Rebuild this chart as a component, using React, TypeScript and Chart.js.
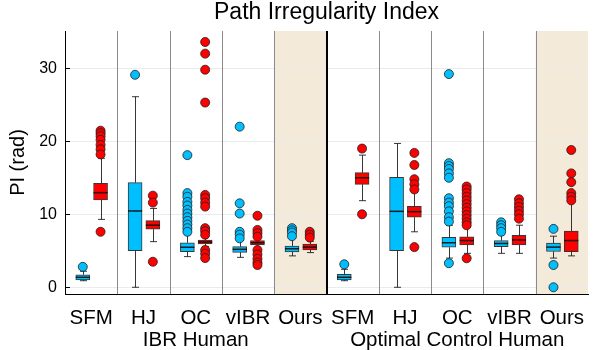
import React, { useEffect, useRef } from 'react';
import { Chart, registerables } from 'chart.js';

Chart.register(...registerables);

const categories = ['SFM', 'HJ', 'OC', 'vIBR', 'Ours', 'SFM', 'HJ', 'OC', 'vIBR', 'Ours'];
const groupLabels = ['IBR Human', 'Optimal Control Human'];
const groupLabelAt = [2, 7];
const shadedCats = [4, 9];
const separatorAt = 5;
const yTicks = [0, 10, 20, 30];

// blue series (box statistics per category)
const blueLo = [0.9, 0.0, 4.2, 4.1, 4.3, 0.9, 0.0, 4.0, 4.65, 4.0];
const blueQ1 = [1.0, 5.0, 4.88, 4.79, 4.86, 1.0, 5.01, 5.48, 5.56, 4.9];
const blueMed = [1.37, 10.45, 5.48, 5.2, 5.28, 1.37, 10.4, 6.1, 6.0, 5.5];
const blueQ3 = [1.72, 14.33, 6.1, 5.56, 5.66, 1.78, 15.07, 6.85, 6.4, 6.05];
const blueHi = [2.2, 26.1, 7.2, 6.4, 6.7, 2.46, 19.7, 8.5, 7.2, 7.0];
const blueOut = [
  [2.8],
  [29.1],
  [18.1, 12.9, 12.4, 11.7, 11.2, 10.6, 10.1, 9.6, 9.1, 8.6, 8.1, 7.6],
  [22.0, 11.5, 10.1, 7.6, 7.2, 6.7],
  [8.1, 7.8, 7.5, 7.0],
  [3.15],
  [],
  [29.2, 17.0, 16.6, 16.2, 15.6, 15.0, 12.2, 11.6, 11.1, 10.4, 9.6, 9.0, 3.3],
  [8.9, 8.5, 8.1, 7.6],
  [8.0, 3.05, 0.0],
];

// red series (box statistics per category)
const redLo = [9.3, 6.25, 5.6, 5.3, 4.75, 11.86, 7.6, 4.65, 4.65, 4.3];
const redQ1 = [11.96, 7.95, 5.93, 5.8, 5.1, 14.1, 9.6, 5.8, 5.8, 4.88];
const redMed = [12.96, 8.5, 6.2, 6.1, 5.5, 15.0, 10.36, 6.4, 6.48, 6.4];
const redQ3 = [14.25, 9.12, 6.48, 6.38, 5.9, 15.7, 11.1, 6.9, 7.1, 7.7];
const redHi = [17.67, 10.8, 6.9, 6.7, 6.3, 18.1, 12.96, 8.2, 8.5, 11.7];
const redOut = [
  [21.45, 21.1, 20.7, 20.2, 19.5, 18.9, 18.2, 7.6],
  [12.55, 11.6, 3.5],
  [33.6, 32.0, 29.8, 25.3, 12.65, 12.2, 11.6, 11.05, 8.1, 7.7, 7.2, 5.1, 4.6, 4.0],
  [9.8, 7.85, 7.4, 6.93, 5.1, 4.5, 3.9, 3.4, 3.05],
  [7.6, 7.2, 6.8],
  [19.0, 10.0],
  [18.4, 16.75, 14.8, 14.1, 13.4, 5.5],
  [13.8, 13.4, 12.9, 12.4, 11.9, 11.4, 10.9, 10.4, 9.9, 9.4, 8.9, 8.5, 3.97],
  [12.05, 11.5, 11.0, 10.5, 10.0, 9.4],
  [18.8, 15.6, 14.4, 12.9, 12.4, 11.9],
];

const BLUE = '#00bfff';
const RED = '#ff0000';
const blueOffset = 0.34;
const redOffset = 0.68;
const BOX_W = 14;
const FONT = "'Liberation Sans', Arial, Helvetica, sans-serif";

const series = [
  { off: blueOffset, lo: blueLo, q1: blueQ1, med: blueMed, q3: blueQ3, hi: blueHi },
  { off: redOffset, lo: redLo, q1: redQ1, med: redMed, q3: redQ3, hi: redHi },
];

const boxExtras = {
  id: 'boxExtras',
  beforeDraw(chart: any) {
    const { ctx, chartArea: a, scales } = chart;
    const x = scales.x;
    ctx.save();
    ctx.fillStyle = '#f3eada';
    for (const c of shadedCats) {
      const l = x.getPixelForValue(c);
      const r = x.getPixelForValue(c + 1);
      ctx.fillRect(l, a.top, r - l, a.bottom - a.top);
    }
    ctx.restore();
  },
  beforeDatasetsDraw(chart: any) {
    const { ctx, chartArea: a, scales } = chart;
    const x = scales.x;
    const y = scales.y;
    ctx.save();
    // category dividers
    for (let k = 1; k < categories.length; k++) {
      const px = Math.round(x.getPixelForValue(k));
      ctx.beginPath();
      if (k === separatorAt) {
        ctx.strokeStyle = '#000';
        ctx.lineWidth = 2;
        ctx.moveTo(px, a.top);
        ctx.lineTo(px, a.bottom);
      } else {
        ctx.strokeStyle = '#8a8a8a';
        ctx.lineWidth = 1;
        ctx.moveTo(px + 0.5, a.top);
        ctx.lineTo(px + 0.5, a.bottom);
      }
      ctx.stroke();
    }
    // inward y tick marks
    ctx.strokeStyle = '#000';
    ctx.lineWidth = 1;
    for (const v of yTicks) {
      const py = Math.round(y.getPixelForValue(v)) + 0.5;
      ctx.beginPath();
      ctx.moveTo(a.left, py);
      ctx.lineTo(a.left + 5, py);
      ctx.stroke();
    }
    // whiskers
    ctx.strokeStyle = 'rgba(20,20,20,0.85)';
    ctx.lineWidth = 1;
    for (const s of series) {
      for (let i = 0; i < categories.length; i++) {
        const xc = Math.round(x.getPixelForValue(i + s.off)) + 0.5;
        const yLo = y.getPixelForValue(s.lo[i]);
        const yQ1 = y.getPixelForValue(s.q1[i]);
        const yQ3 = y.getPixelForValue(s.q3[i]);
        const yHi = y.getPixelForValue(s.hi[i]);
        ctx.beginPath();
        ctx.moveTo(xc, yLo);
        ctx.lineTo(xc, yQ1);
        ctx.moveTo(xc, yQ3);
        ctx.lineTo(xc, yHi);
        ctx.moveTo(xc - BOX_W / 4, yLo);
        ctx.lineTo(xc + BOX_W / 4, yLo);
        ctx.moveTo(xc - BOX_W / 4, yHi);
        ctx.lineTo(xc + BOX_W / 4, yHi);
        ctx.stroke();
      }
    }
    ctx.restore();
  },
  afterDatasetDraw(chart: any, args: any) {
    const ds = chart.data.datasets[args.index];
    if (!ds || ds.boxSeries === undefined) return;
    const s = series[ds.boxSeries];
    const { ctx, scales } = chart;
    const x = scales.x;
    const y = scales.y;
    ctx.save();
    ctx.strokeStyle = 'rgba(10,10,10,0.9)';
    ctx.lineWidth = 1.5;
    for (let i = 0; i < categories.length; i++) {
      const xc = x.getPixelForValue(i + s.off);
      const ym = y.getPixelForValue(s.med[i]);
      ctx.beginPath();
      ctx.moveTo(xc - BOX_W / 2, ym);
      ctx.lineTo(xc + BOX_W / 2, ym);
      ctx.stroke();
    }
    ctx.restore();
  },
};

function outlierPoints(out: number[][], off: number) {
  const pts: { x: number; y: number }[] = [];
  out.forEach((vals, i) => vals.forEach((v) => pts.push({ x: i + off, y: v })));
  return pts;
}

function boxBars(q1: number[], q3: number[], off: number) {
  return categories.map((_, i) => ({ x: i + off, y: [q1[i], q3[i]] }));
}

export default function App() {
  const ref = useRef<HTMLCanvasElement | null>(null);

  useEffect(() => {
    document.body.style.margin = '0';
    const canvas = ref.current;
    if (!canvas) return;
    const chart = new Chart(canvas, {
      type: 'bar',
      data: {
        datasets: [
          {
            type: 'scatter',
            data: outlierPoints(blueOut, blueOffset),
            backgroundColor: BLUE,
            borderColor: 'rgba(30,30,30,0.8)',
            borderWidth: 1,
            pointRadius: 4.5,
          } as any,
          {
            type: 'scatter',
            data: outlierPoints(redOut, redOffset),
            backgroundColor: RED,
            borderColor: 'rgba(30,30,30,0.8)',
            borderWidth: 1,
            pointRadius: 4.5,
          } as any,
          {
            type: 'bar',
            boxSeries: 0,
            data: boxBars(blueQ1, blueQ3, blueOffset),
            backgroundColor: BLUE,
            borderColor: 'rgba(20,20,20,0.85)',
            borderWidth: 1,
            borderSkipped: false,
            grouped: false,
            barThickness: BOX_W,
            maxBarThickness: BOX_W,
          } as any,
          {
            type: 'bar',
            boxSeries: 1,
            data: boxBars(redQ1, redQ3, redOffset),
            backgroundColor: RED,
            borderColor: 'rgba(20,20,20,0.85)',
            borderWidth: 1,
            borderSkipped: false,
            grouped: false,
            barThickness: BOX_W,
            maxBarThickness: BOX_W,
          } as any,
        ],
      },
      options: {
        responsive: false,
        animation: false,
        events: [],
        devicePixelRatio: 1,
        layout: { padding: { left: 0, right: 12, top: 0, bottom: 0 } },
        plugins: {
          legend: { display: false },
          tooltip: { enabled: false },
          title: {
            display: true,
            text: 'Path Irregularity Index',
            fullSize: false,
            color: '#000',
            font: { family: FONT, size: 23, weight: 'normal', lineHeight: 1.0 },
            padding: { top: 1.5, bottom: 6.5 },
          },
        },
        scales: {
          x: {
            type: 'linear',
            min: 0,
            max: categories.length,
            offset: false,
            grid: { display: false },
            border: { display: true, color: '#000', width: 1 },
            afterBuildTicks: (s: any) => {
              s.ticks = categories.map((_, i) => ({ value: i + 0.5 }));
            },
            afterFit: (s: any) => {
              s.height = 56;
            },
            ticks: {
              autoSkip: false,
              maxRotation: 0,
              minRotation: 0,
              padding: 5,
              color: '#000',
              font: { family: FONT, size: 20.5, lineHeight: 1.07 },
              callback: (_v: any, idx: number) => {
                const g = groupLabelAt.indexOf(idx);
                return g >= 0 ? [categories[idx], groupLabels[g]] : categories[idx];
              },
            },
          },
          y: {
            type: 'linear',
            min: -0.92,
            max: 35.1,
            grid: { color: '#ebebeb', drawTicks: false },
            border: { display: true, color: '#000', width: 1 },
            afterBuildTicks: (s: any) => {
              s.ticks = yTicks.map((v) => ({ value: v }));
            },
            afterFit: (s: any) => {
              s.width = 65;
            },
            ticks: {
              padding: 8,
              color: '#000',
              font: { family: FONT, size: 16 },
              callback: (v: any) => String(v),
            },
            title: {
              display: true,
              text: 'PI (rad)',
              color: '#000',
              font: { family: FONT, size: 20 },
              padding: { top: 6, bottom: 0 },
            },
          },
        },
      } as any,
      plugins: [boxExtras],
    });
    return () => chart.destroy();
  }, []);

  return (
    <div style={{ width: 600, height: 350 }}>
      <canvas ref={ref} width={600} height={350} style={{ display: 'block' }} />
    </div>
  );
}
